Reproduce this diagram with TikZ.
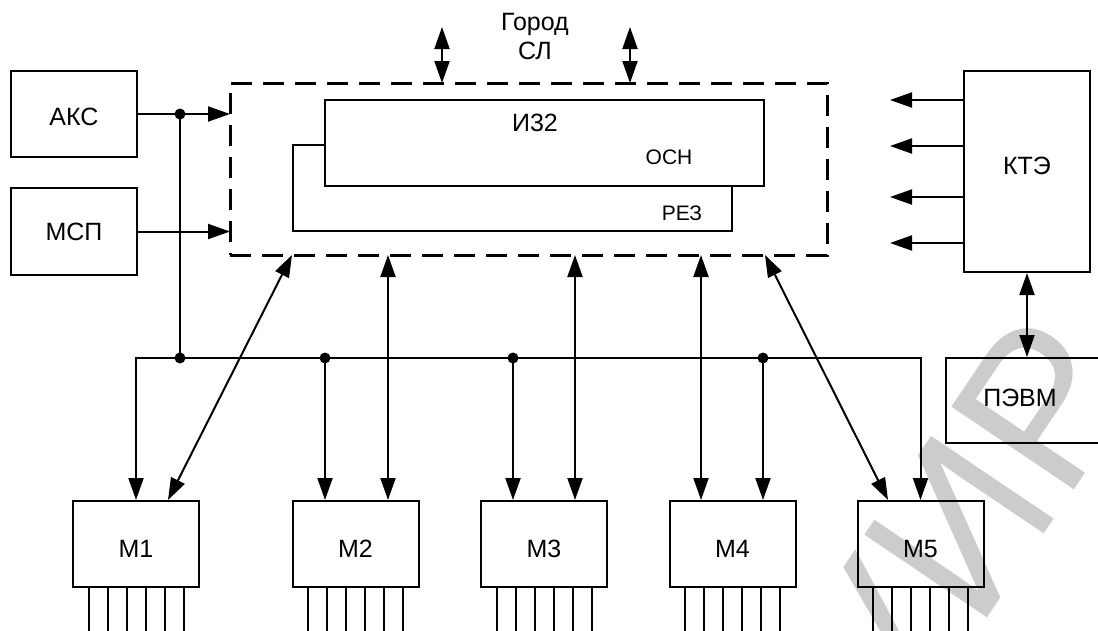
\documentclass[tikz,border=0pt]{standalone}
\usepackage{fontspec}
\setmainfont{Liberation Sans}
\usetikzlibrary{arrows.meta}
\begin{document}
\begin{tikzpicture}[x=1pt,y=-1pt,line width=2pt,
  >={Triangle[length=22pt,width=15pt]},
  box/.style={draw,line width=2pt,inner sep=0pt,minimum width=126pt,minimum height=86pt,font=\fontsize{25}{30}\selectfont},
  mbox/.style={box,text height=26pt,text depth=0pt},
  lbl/.style={inner sep=0pt,anchor=base,font=\fontsize{25}{30}\selectfont},
  small/.style={inner sep=0pt,anchor=base,font=\fontsize{21}{25}\selectfont},
  junct/.style={fill,circle,inner sep=0pt,minimum size=11pt},
  sysbox/.style={draw,line width=3pt,dash pattern=on 21pt off 11pt,inner sep=0pt,outer sep=0pt,minimum width=597pt,minimum height=172pt}]
\useasboundingbox (0,0) rectangle (1098,630);
% watermark
\node[rotate=56,anchor=base east,inner sep=0pt,text=black!20,font=\fontsize{215}{215}\selectfont] (wm) at (1145,385) {БГУИР};

% main blocks
\node[box,text height=22pt,text depth=0pt] (aks) at (74,114) {АКС};
\node[box,minimum height=87pt] (msp) at (74,231.5) {МСП};
\node[sysbox] (sys) at (528.5,169) {};
\node[box,minimum width=439pt] (osn) at (544.5,143) {};
\draw (osn.west |- 0,145) -- (293,145) -- (293,231) -- (732,231) -- (732,0 |- osn.south);
\node[lbl] (i32) at (535,131) {И32};
\node[small] (osnl) at (669,164) {ОСН};
\node[small] (rezl) at (682,220) {РЕЗ};
\node[lbl] (gorod) at (535,30) {Город};
\node[lbl] (sl) at (535,59) {СЛ};
\node[box,minimum height=201pt,text height=18pt,text depth=13pt] (kte) at (1027,171.5) {КТЭ};
\node[box,minimum width=160pt,minimum height=85pt] (pevm) at (1026,400.5) {};
\node[lbl] (pevml) at (1020,406) {ПЭВМ};

% modules
\node[mbox] (m1) at (136,544) {М1};
\node[mbox] (m2) at (355.5,544) {М2};
\node[mbox] (m3) at (544,544) {М3};
\node[mbox] (m4) at (732.5,544) {М4};
\node[mbox] (m5) at (920.5,544) {М5};
\foreach \m in {m1,m2,m3,m4,m5}
  \foreach \k in {0,...,5}
    \draw ([xshift={-47.5pt+19pt*\k}]\m.south) -- ++(0,50);

% inputs to the exchange
\draw[->] (aks.east) -- (aks.east -| sys.west);
\draw[->] (msp.east) -- (msp.east -| sys.west);
\node[junct] (j0) at (180,114) {};
\node[junct] (j1) at (180,358) {};
\node[junct] (j2) at (325,358) {};
\node[junct] (j3) at (513,358) {};
\node[junct] (j4) at (763,358) {};
\draw (j0.center) -- (j1.center);
\draw[<->] (m1.north) -- (m1.north |- j1.center) -- (m5.north |- j1.center) -- (m5.north);
\draw[->] (j2.center) -- (j2.center |- m2.north);
\draw[->] (j3.center) -- (j3.center |- m3.north);
\draw[->] (j4.center) -- (j4.center |- m4.north);

% links exchange <-> modules
\draw[<->] (388,0 |- sys.south) -- (388,0 |- m2.north);
\draw[<->] (575,0 |- sys.south) -- (575,0 |- m3.north);
\draw[<->] (701,0 |- sys.south) -- (701,0 |- m4.north);
\draw[<->] (292,0 |- sys.south) -- (168,0 |- m1.north);
\draw[<->] (765,0 |- sys.south) -- (888,0 |- m5.north);

% city lines
\coordinate (t1) at (442,27);
\coordinate (t2) at (630,27);
\draw[<->] (t1) -- (t1 |- sys.north);
\draw[<->] (t2) -- (t2 |- sys.north);

% KTE outputs
\foreach \yy [count=\i] in {100,146,197,243} {
  \coordinate (k\i) at (890,\yy);
  \draw[->] (kte.west |- k\i) -- (k\i);
}
\draw[<->] (kte.south) -- (kte.south |- pevm.north);
\end{tikzpicture}
\end{document}
